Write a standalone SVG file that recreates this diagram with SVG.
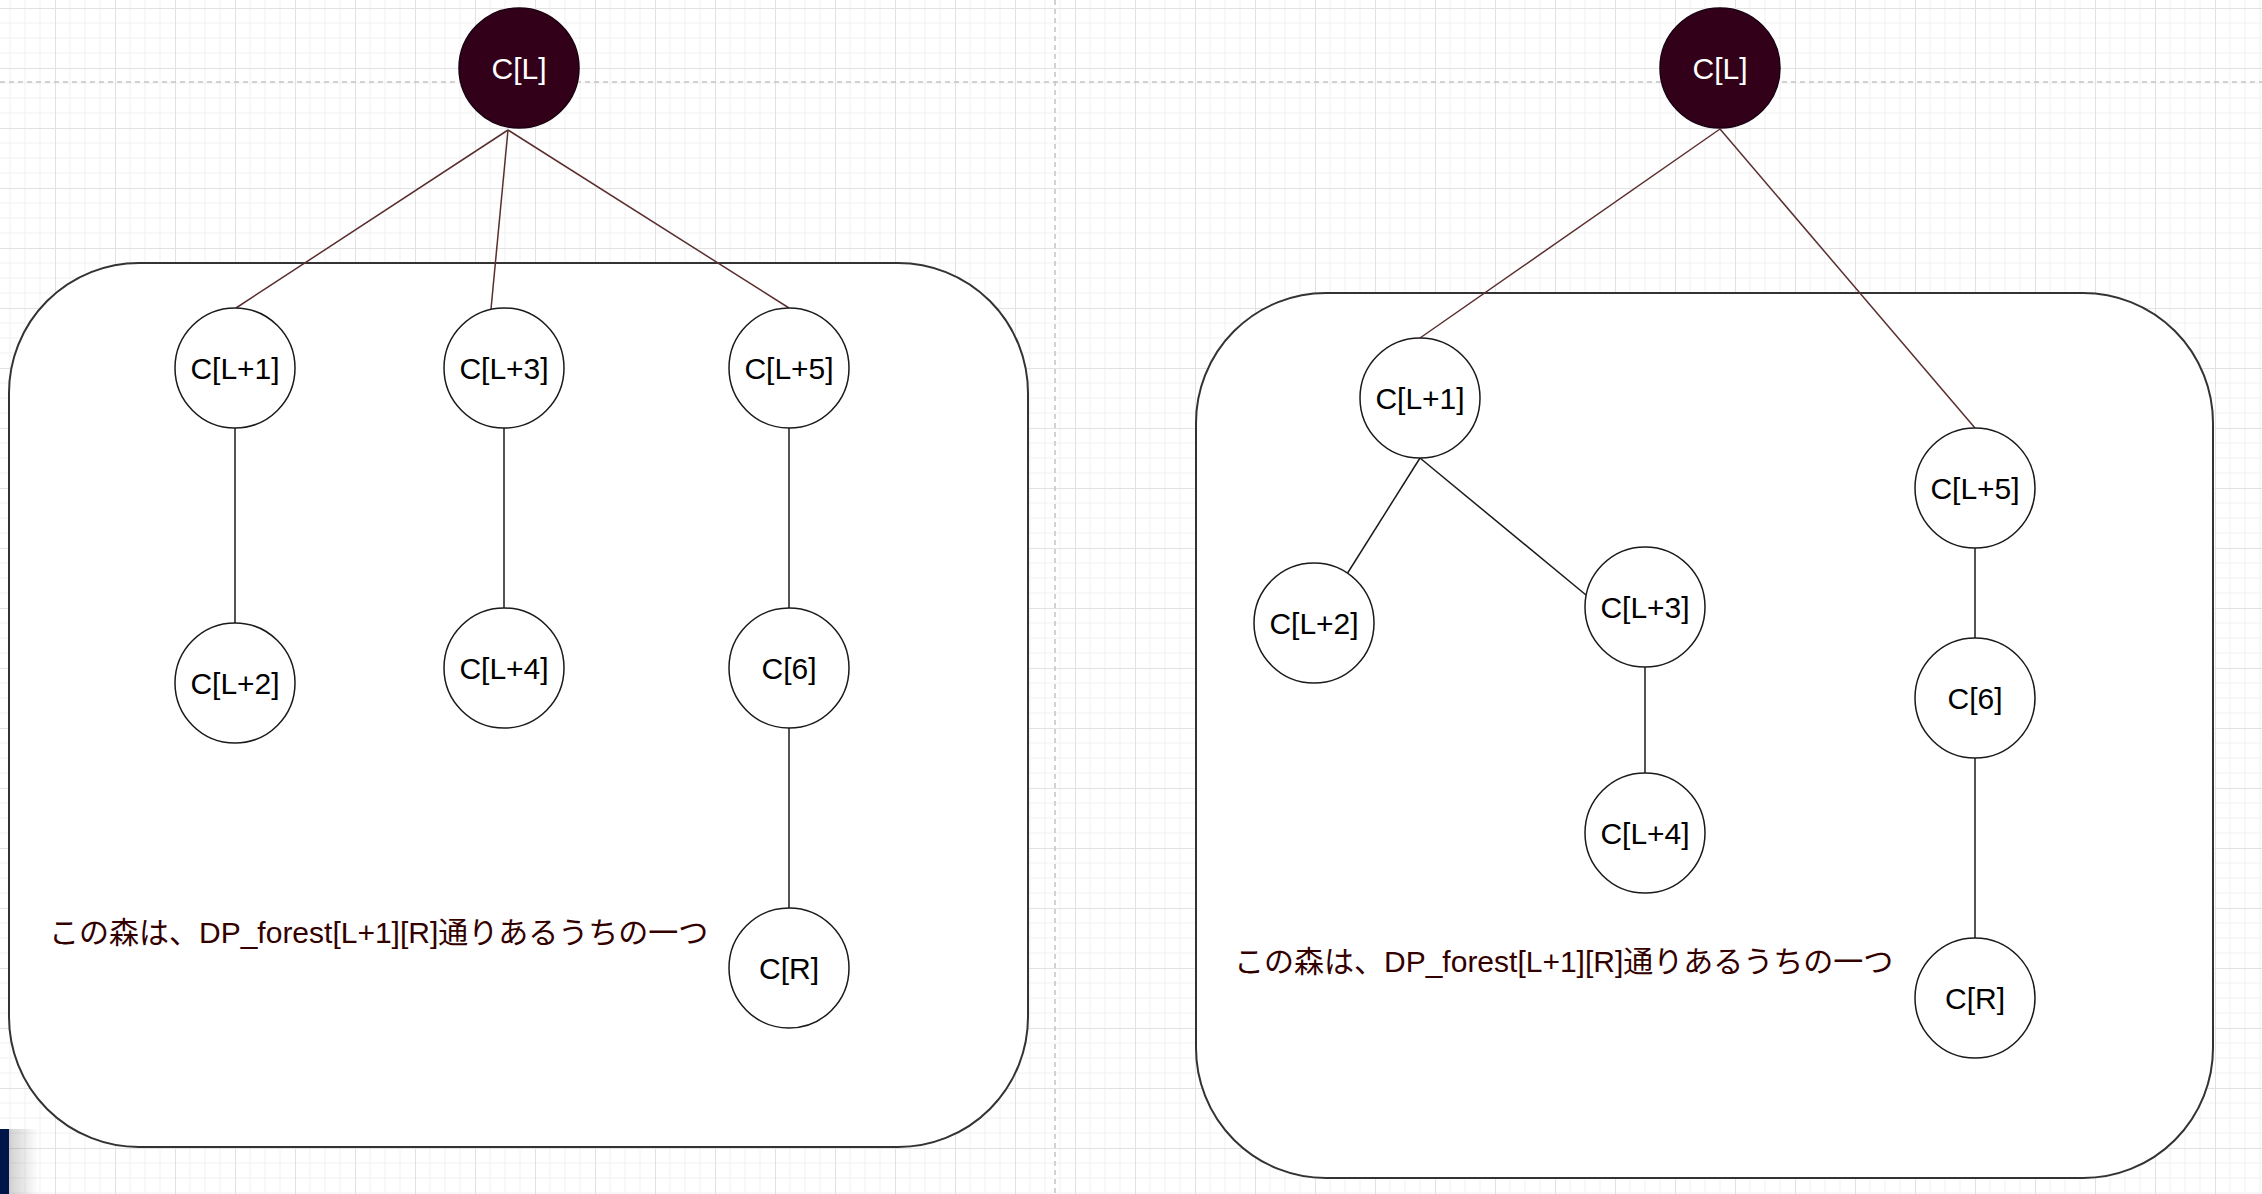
<svg xmlns="http://www.w3.org/2000/svg" width="2262" height="1194" viewBox="0 0 2262 1194">
  <defs>
    <pattern id="grid" patternUnits="userSpaceOnUse" x="55" y="8" width="60" height="60">
      <path d="M15 0V60M30 0V60M45 0V60M0 15H60M0 30H60M0 45H60" stroke="#f1f1f1" stroke-width="1" fill="none"/>
      <path d="M0.5 0V60M0 0.5H60" stroke="#e2e2e2" stroke-width="1" fill="none"/>
    </pattern>
    <linearGradient id="shade" x1="0" y1="0" x2="1" y2="0">
      <stop offset="0" stop-color="#000" stop-opacity="0.18"/>
      <stop offset="1" stop-color="#000" stop-opacity="0"/>
    </linearGradient>
    <style>
      .node circle { fill: #ffffff; stroke: #1a1a1a; stroke-width: 1.5; }
      .node text { font-family: "Liberation Sans", Arial, sans-serif; font-size: 30px; fill: #000; text-anchor: middle; }
      .root circle { fill: #33001a; stroke: #1a0010; stroke-width: 1.5; }
      .root text { fill: #ffffff; }
      .box { fill: #ffffff; stroke: #333333; stroke-width: 2; }
      .note { font-family: "Liberation Sans", "Noto Sans CJK JP", sans-serif; font-size: 30px; fill: #330000; }
      .edge { stroke: #1a1a1a; stroke-width: 1.5; fill: none; }
      .edge-root { stroke: #5a2e2e; stroke-width: 1.5; fill: none; }
      .page { stroke: #c4c4c4; stroke-width: 1.5; stroke-dasharray: 5 4; fill: none; }
    </style>
  </defs>

  <rect x="0" y="0" width="2262" height="1194" fill="#ffffff"/>
  <rect x="0" y="0" width="2262" height="1194" fill="url(#grid)"/>
  <line class="page" x1="0" y1="82" x2="2262" y2="82"/>
  <line class="page" x1="1055" y1="0" x2="1055" y2="1194"/>

  <g id="forest-left">
    <rect class="box" x="9" y="263" width="1019" height="884" rx="130" ry="130"/>
  </g>
  <g id="forest-right">
    <rect class="box" x="1196" y="293" width="1017" height="885" rx="130" ry="130"/>
  </g>

  <g id="connectors">
    <line class="edge-root" x1="508" y1="130" x2="236" y2="308"/>
    <line class="edge-root" x1="508" y1="130" x2="491" y2="309"/>
    <line class="edge-root" x1="508" y1="130" x2="789" y2="308"/>
    <line class="edge" x1="235" y1="428" x2="235" y2="623"/>
    <line class="edge" x1="504" y1="428" x2="504" y2="608"/>
    <line class="edge" x1="789" y1="428" x2="789" y2="608"/>
    <line class="edge" x1="789" y1="728" x2="789" y2="908"/>

    <line class="edge-root" x1="1720" y1="129" x2="1420" y2="338"/>
    <line class="edge-root" x1="1720" y1="129" x2="1975" y2="428"/>
    <line class="edge" x1="1420" y1="458" x2="1347" y2="574"/>
    <line class="edge" x1="1420" y1="458" x2="1586" y2="595"/>
    <line class="edge" x1="1645" y1="667" x2="1645" y2="773"/>
    <line class="edge" x1="1975" y1="548" x2="1975" y2="638"/>
    <line class="edge" x1="1975" y1="758" x2="1975" y2="938"/>
  </g>

  <g id="L-root" class="node root"><circle cx="519" cy="68" r="60"/><text x="519" y="79">C[L]</text></g>
  <g id="L-n1" class="node"><circle cx="235" cy="368" r="60"/><text x="235" y="379">C[L+1]</text></g>
  <g id="L-n3" class="node"><circle cx="504" cy="368" r="60"/><text x="504" y="379">C[L+3]</text></g>
  <g id="L-n5" class="node"><circle cx="789" cy="368" r="60"/><text x="789" y="379">C[L+5]</text></g>
  <g id="L-n2" class="node"><circle cx="235" cy="683" r="60"/><text x="235" y="694">C[L+2]</text></g>
  <g id="L-n4" class="node"><circle cx="504" cy="668" r="60"/><text x="504" y="679">C[L+4]</text></g>
  <g id="L-n6" class="node"><circle cx="789" cy="668" r="60"/><text x="789" y="679">C[6]</text></g>
  <g id="L-nR" class="node"><circle cx="789" cy="968" r="60"/><text x="789" y="979">C[R]</text></g>
  <g id="L-note"><text class="note" x="49" y="943">この森は、DP_forest[L+1][R]通りあるうちの一つ</text></g>

  <g id="R-root" class="node root"><circle cx="1720" cy="68" r="60"/><text x="1720" y="79">C[L]</text></g>
  <g id="R-n1" class="node"><circle cx="1420" cy="398" r="60"/><text x="1420" y="409">C[L+1]</text></g>
  <g id="R-n5" class="node"><circle cx="1975" cy="488" r="60"/><text x="1975" y="499">C[L+5]</text></g>
  <g id="R-n2" class="node"><circle cx="1314" cy="623" r="60"/><text x="1314" y="634">C[L+2]</text></g>
  <g id="R-n3" class="node"><circle cx="1645" cy="607" r="60"/><text x="1645" y="618">C[L+3]</text></g>
  <g id="R-n4" class="node"><circle cx="1645" cy="833" r="60"/><text x="1645" y="844">C[L+4]</text></g>
  <g id="R-n6" class="node"><circle cx="1975" cy="698" r="60"/><text x="1975" y="709">C[6]</text></g>
  <g id="R-nR" class="node"><circle cx="1975" cy="998" r="60"/><text x="1975" y="1009">C[R]</text></g>
  <g id="R-note"><text class="note" x="1234" y="972">この森は、DP_forest[L+1][R]通りあるうちの一つ</text></g>

  <rect x="9" y="1129" width="30" height="65" fill="url(#shade)"/>
  <rect x="0" y="1129" width="9" height="65" fill="#00164a"/>
</svg>
